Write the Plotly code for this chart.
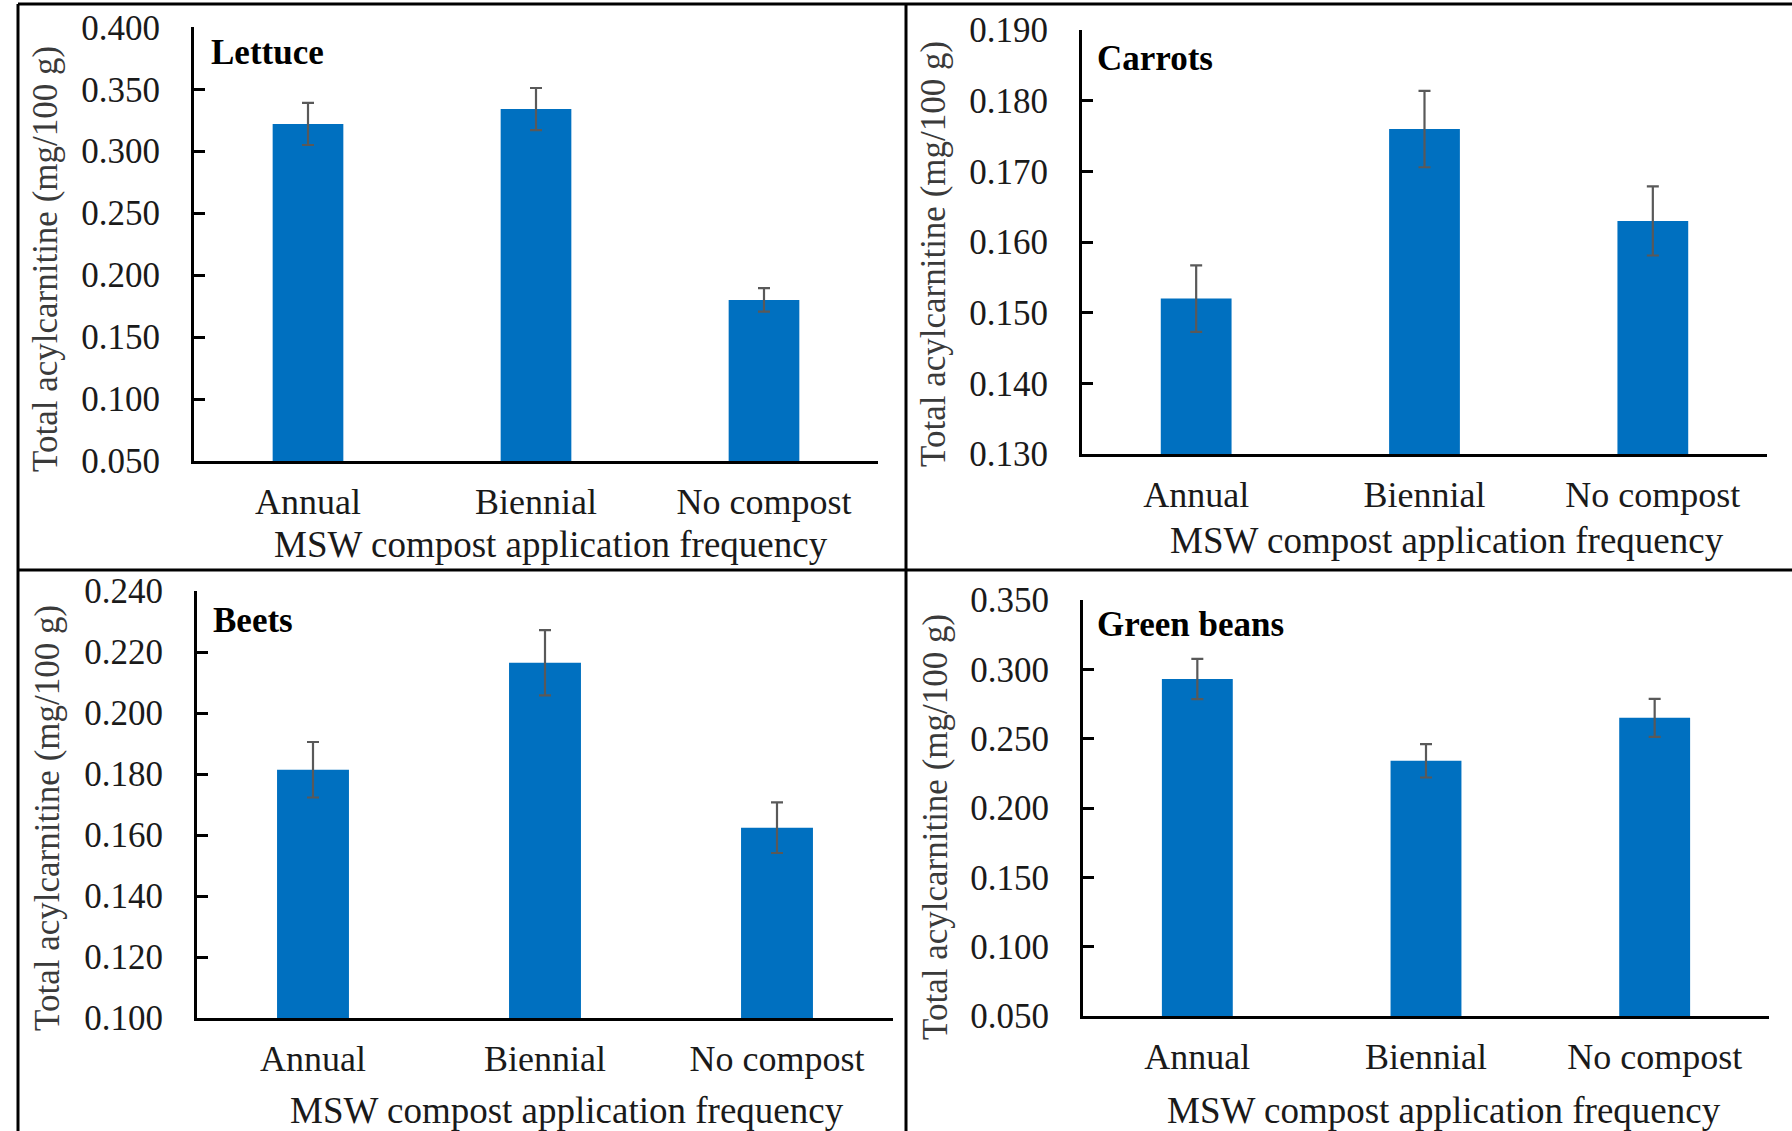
import plotly.graph_objects as go

# ---- data -------------------------------------------------------------
categories = ["Annual", "Biennial", "No compost"]

lettuce_mean = [0.322, 0.334, 0.180]
lettuce_err = [0.017, 0.017, 0.0095]

carrots_mean = [0.152, 0.176, 0.163]
carrots_err = [0.0047, 0.0054, 0.0049]

beets_mean = [0.1814, 0.2165, 0.1624]
beets_err = [0.0091, 0.0107, 0.0083]

greenbeans_mean = [0.293, 0.234, 0.265]
greenbeans_err = [0.0145, 0.012, 0.0137]

lettuce_ticks = [0.050, 0.100, 0.150, 0.200, 0.250, 0.300, 0.350, 0.400]
carrots_ticks = [0.130, 0.140, 0.150, 0.160, 0.170, 0.180, 0.190]
beets_ticks = [0.100, 0.120, 0.140, 0.160, 0.180, 0.200, 0.220, 0.240]
greenbeans_ticks = [0.050, 0.100, 0.150, 0.200, 0.250, 0.300, 0.350]

panel_names = ["Lettuce", "Carrots", "Beets", "Green beans"]
y_title = "Total acylcarnitine (mg/100 g)"
x_title = "MSW compost application frequency"

# ---- layout helpers ---------------------------------------------------
W, H = 1792, 1131
FONT = "Liberation Serif, Times New Roman, serif"
BAR_COLOR = "#0070C0"
ERR_COLOR = "#595959"


def px_x(p):
    return p / W


def px_y(p):
    return 1 - p / H


# plot-area boxes in pixels: (left, right, top, bottom)
boxes = [
    (194, 878, 27.3, 461),
    (1082, 1767, 30.2, 454),
    (197, 893, 591, 1018),
    (1083, 1769, 600, 1016),
]

panels = [
    (lettuce_mean, lettuce_err, lettuce_ticks),
    (carrots_mean, carrots_err, carrots_ticks),
    (beets_mean, beets_err, beets_ticks),
    (greenbeans_mean, greenbeans_err, greenbeans_ticks),
]

fig = go.Figure()
layout = {}

for i, ((mean, err, ticks), box) in enumerate(zip(panels, boxes), start=1):
    sfx = "" if i == 1 else str(i)
    fig.add_trace(
        go.Bar(
            x=categories,
            y=mean,
            marker=dict(color=BAR_COLOR, line=dict(width=0)),
            error_y=dict(type="data", array=err, color=ERR_COLOR,
                         thickness=2.2, width=6),
            xaxis="x" + sfx,
            yaxis="y" + sfx,
            showlegend=False,
        )
    )
    left, right, top, bottom = box
    layout["xaxis" + sfx] = dict(
        domain=[px_x(left), px_x(right)],
        anchor="y" + sfx,
        automargin=False,
        showline=True, linewidth=3, linecolor="black",
        ticks="", showgrid=False, zeroline=False,
        tickfont=dict(family=FONT, size=36, color="#1a1a1a"),
        ticklabelstandoff=7,
        fixedrange=True,
    )
    layout["yaxis" + sfx] = dict(
        domain=[px_y(bottom), px_y(top)],
        anchor="x" + sfx,
        automargin=False,
        range=[ticks[0], ticks[-1]],
        tickvals=ticks,
        tickformat=".3f",
        showline=True, linewidth=3, linecolor="black",
        ticks="inside", ticklen=11, tickwidth=3, tickcolor="black",
        showgrid=False, zeroline=False,
        tickfont=dict(family=FONT, size=35, color="#1a1a1a"),
        ticklabelstandoff=24,
        fixedrange=True,
    )

# ---- text: panel names, axis titles ---------------------------------
annotations = []
name_pos = [(209, 53), (1095, 58), (211, 620), (1095, 624)]
ytitle_pos = [(45, 259), (933, 254), (47, 818), (935, 827)]
xtitle_pos = [(551, 545), (1447, 540), (567, 1110), (1444, 1110)]

for name, (nx, ny) in zip(panel_names, name_pos):
    annotations.append(dict(
        text="<b>" + name + "</b>", x=px_x(nx), y=px_y(ny),
        xref="paper", yref="paper", xanchor="left", yanchor="middle",
        showarrow=False, font=dict(family=FONT, size=35, color="black"),
    ))
for (tx, ty) in ytitle_pos:
    annotations.append(dict(
        text=y_title, x=px_x(tx), y=px_y(ty), textangle=-90,
        xref="paper", yref="paper", xanchor="center", yanchor="middle",
        showarrow=False, font=dict(family=FONT, size=35, color="#3a3a3a"),
    ))
for (tx, ty) in xtitle_pos:
    annotations.append(dict(
        text=x_title, x=px_x(tx), y=px_y(ty),
        xref="paper", yref="paper", xanchor="center", yanchor="middle",
        showarrow=False, font=dict(family=FONT, size=37, color="#1a1a1a"),
    ))

# ---- panel frame lines ----------------------------------------------
line = dict(color="black", width=3)
shapes = [
    dict(type="line", xref="paper", yref="paper",
         x0=px_x(18), x1=1, y0=px_y(4), y1=px_y(4), line=line),
    dict(type="line", xref="paper", yref="paper",
         x0=px_x(18), x1=px_x(18), y0=px_y(4), y1=0, line=line),
    dict(type="line", xref="paper", yref="paper",
         x0=px_x(906), x1=px_x(906), y0=px_y(4), y1=0, line=line),
    dict(type="line", xref="paper", yref="paper",
         x0=px_x(18), x1=1, y0=px_y(570), y1=px_y(570), line=line),
]

fig.update_layout(
    width=W, height=H,
    margin=dict(l=0, r=0, t=0, b=0, autoexpand=False),
    paper_bgcolor="white", plot_bgcolor="white",
    bargap=0.69,
    annotations=annotations,
    shapes=shapes,
    font=dict(family=FONT),
    **layout,
)

fig.write_html("out.html")
